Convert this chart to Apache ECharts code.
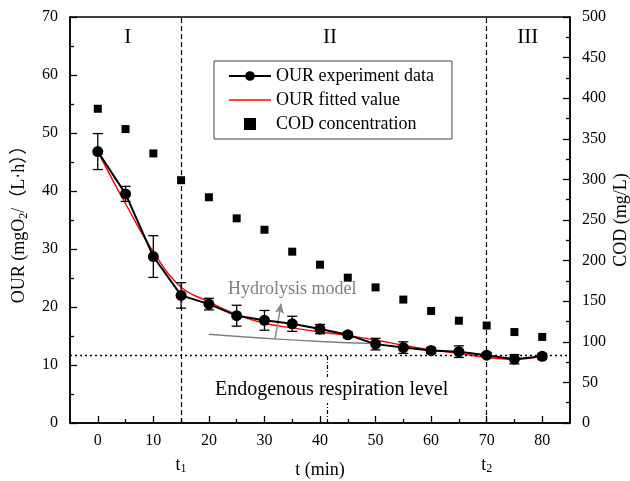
<!DOCTYPE html>
<html>
<head>
<meta charset="utf-8">
<script src="https://cdn.jsdelivr.net/npm/echarts@6/dist/echarts.min.js"></script>
<style>
  html, body { margin: 0; padding: 0; background: #fff; }
  #main { width: 630px; height: 481px; }
</style>
</head>
<body>
<div id="main"></div>
<script>
// data
var times = [0, 5, 10, 15, 20, 25, 30, 35, 40, 45, 50, 55, 60, 65, 70, 75, 80];
var ourMean = [46.8, 39.5, 28.7, 22.0, 20.5, 18.5, 17.7, 17.1, 16.2, 15.2, 13.6, 13.0, 12.5, 12.3, 11.7, 11.0, 11.5];
var ourErr = [3.1, 1.3, 3.6, 2.2, 1.0, 1.8, 1.7, 1.3, 0.8, 0.5, 1.0, 1.0, 0.5, 1.0, 0.4, 0.8, 0.5];
var ourFit = [46.8, 37.8, 29.5, 23.4, 20.9, 18.7, 17.2, 16.4, 15.7, 15.1, 14.3, 13.4, 12.6, 12.0, 11.3, 11.0, 11.5];
var codVals = [387, 362, 332, 299, 278, 252, 238, 211, 195, 179, 167, 152, 138, 126, 120, 112, 106];
var hydroT = [20, 30, 40, 50];
var hydroV = [15.3, 14.6, 14.05, 13.7];
var endoLevel = 11.7;
var phaseBounds = [15, 70];
var xMajor = [0, 10, 20, 30, 40, 50, 60, 70, 80];
var xMinor = [5, 15, 25, 35, 45, 55, 65, 75];

var FONT = 'Liberation Serif, Noto Sans CJK SC, serif';

function pairs(xs, ys) {
    return xs.map(function (x, i) { return [x, ys[i]]; });
}

var errData = times.map(function (t, i) {
    return [t, ourMean[i] - ourErr[i], ourMean[i] + ourErr[i]];
});

var chart = echarts.init(document.getElementById('main'), null, { renderer: 'canvas' });

var axisBase = {
    axisLine: { show: true, onZero: false, lineStyle: { color: '#000', width: 1.5 } },
    splitLine: { show: false },
    minorSplitLine: { show: false },
    nameMoveOverlap: false
};

var option = {
    animation: false,
    backgroundColor: '#fff',
    textStyle: { fontFamily: FONT },
    grid: {
        left: 70, right: 60, top: 17, bottom: 58,
        containLabel: false, outerBoundsMode: 'none',
        show: true, borderColor: '#000', borderWidth: 1.5, backgroundColor: 'transparent'
    },
    legend: {
        orient: 'vertical',
        left: 214, top: 61,
        backgroundColor: '#fff',
        borderColor: '#444', borderWidth: 1,
        padding: [6, 18, 6, 14],
        itemWidth: 42, itemHeight: 12, itemGap: 6,
        textStyle: { fontFamily: FONT, fontSize: 18, color: '#000' },
        data: [
            { name: 'OUR experiment data' },
            { name: 'OUR fitted value', icon: 'path://M0,0H42V1.4H0Z' },
            { name: 'COD concentration', icon: 'path://M0,0H10V10H0Z' }
        ]
    },
    xAxis: [
        Object.assign({}, axisBase, {
            type: 'value', min: -5, max: 85, position: 'bottom',
            axisTick: { show: true, inside: true, length: 7, customValues: xMajor, lineStyle: { color: '#000', width: 1.3 } },
            axisLabel: { customValues: xMajor, margin: 10, fontSize: 16, color: '#000', fontFamily: FONT },
            name: 't (min)', nameLocation: 'middle', nameGap: 38,
            nameTextStyle: { fontSize: 18, color: '#000', fontFamily: FONT }
        }),
        {
            type: 'value', min: -5, max: 85, position: 'bottom',
            axisLine: { show: false, onZero: false },
            splitLine: { show: false },
            axisTick: { show: true, inside: true, length: 4, customValues: xMinor, lineStyle: { color: '#000', width: 1.3 } },
            axisLabel: {
                customValues: phaseBounds, margin: 32, color: '#000',
                formatter: function (v) { return v === 15 ? '{t|t}{s|1}' : '{t|t}{s|2}'; },
                rich: {
                    t: { fontSize: 18, fontFamily: FONT, color: '#000', lineHeight: 20 },
                    s: { fontSize: 12, fontFamily: FONT, color: '#000', verticalAlign: 'bottom', lineHeight: 12 }
                }
            }
        }
    ],
    yAxis: [
        Object.assign({}, axisBase, {
            type: 'value', min: 0, max: 70, interval: 10, position: 'left',
            axisTick: { show: true, inside: true, length: 7, lineStyle: { color: '#000', width: 1.3 } },
            minorTick: { show: true, splitNumber: 2, length: 4, lineStyle: { color: '#000', width: 1.3 } },
            axisLabel: { margin: 12, fontSize: 16, color: '#000', fontFamily: FONT },
            name: '{a|OUR (mgO}{s|2}{a|/（L·h））}',
            nameLocation: 'middle', nameRotate: 90, nameGap: 40,
            nameTextStyle: {
                rich: {
                    a: { fontSize: 18, fontFamily: FONT, color: '#000', lineHeight: 22 },
                    s: { fontSize: 12, fontFamily: FONT, color: '#000', verticalAlign: 'bottom', lineHeight: 12 }
                }
            }
        }),
        Object.assign({}, axisBase, {
            type: 'value', min: 0, max: 500, interval: 50, position: 'right',
            axisTick: { show: true, inside: true, length: 7, lineStyle: { color: '#000', width: 1.3 } },
            minorTick: { show: true, splitNumber: 2, length: 4, lineStyle: { color: '#000', width: 1.3 } },
            axisLabel: { margin: 12, fontSize: 16, color: '#000', fontFamily: FONT },
            name: 'COD (mg/L)', nameLocation: 'middle', nameRotate: 90, nameGap: 42,
            nameTextStyle: { fontSize: 18, color: '#000', fontFamily: FONT }
        })
    ],
    series: [
        {
            name: 'Hydrolysis model',
            type: 'line',
            data: pairs(hydroT, hydroV),
            smooth: true,
            symbol: 'none',
            lineStyle: { color: '#7f7f7f', width: 1.4 },
            z: 2,
            markLine: {
                silent: true,
                symbol: ['none', 'arrow'],
                symbolSize: [7, 10],
                label: { show: false },
                lineStyle: { color: '#8a8a8a', width: 1.5, type: 'solid' },
                data: [[{ coord: [31.9, 14.4] }, { coord: [33.0, 20.6] }]]
            }
        },
        {
            name: 'OUR fitted value',
            type: 'line',
            data: pairs(times, ourFit),
            smooth: 0.4,
            symbol: 'none',
            lineStyle: { color: '#ff0000', width: 1.4 },
            itemStyle: { color: '#ff0000' },
            z: 3
        },
        {
            name: 'errbars',
            type: 'custom',
            data: errData,
            z: 4,
            renderItem: function (params, api) {
                var lo = api.coord([api.value(0), api.value(1)]);
                var hi = api.coord([api.value(0), api.value(2)]);
                var w = 5;
                var st = { stroke: '#000', lineWidth: 1.3 };
                return {
                    type: 'group',
                    children: [
                        { type: 'line', shape: { x1: lo[0], y1: lo[1], x2: hi[0], y2: hi[1] }, style: st },
                        { type: 'line', shape: { x1: lo[0] - w, y1: lo[1], x2: lo[0] + w, y2: lo[1] }, style: st },
                        { type: 'line', shape: { x1: hi[0] - w, y1: hi[1], x2: hi[0] + w, y2: hi[1] }, style: st }
                    ]
                };
            }
        },
        {
            name: 'OUR experiment data',
            type: 'line',
            data: pairs(times, ourMean),
            symbol: 'circle',
            symbolSize: 11,
            lineStyle: { color: '#000', width: 2 },
            itemStyle: { color: '#000' },
            z: 5,
            markLine: {
                silent: true,
                symbol: 'none',
                label: { show: false },
                data: [
                    { xAxis: phaseBounds[0], lineStyle: { color: '#000', width: 1.2, type: [5, 3] } },
                    { xAxis: phaseBounds[1], lineStyle: { color: '#000', width: 1.2, type: [5, 3] } },
                    { yAxis: endoLevel, lineStyle: { color: '#000', width: 1.3, type: [2, 3] } },
                    [
                        { coord: [41.3, 0], lineStyle: { color: '#000', width: 1.2, type: [4, 2, 1, 2] } },
                        { coord: [41.3, endoLevel] }
                    ]
                ]
            }
        },
        {
            name: 'COD concentration',
            type: 'scatter',
            yAxisIndex: 1,
            data: pairs(times, codVals),
            symbol: 'rect',
            symbolSize: 8,
            itemStyle: { color: '#000', opacity: 1 },
            z: 4
        }
    ]
};

chart.setOption(option);

// text annotations placed through the axes
function px(t, v) {
    return chart.convertToPixel({ xAxisIndex: 0, yAxisIndex: 0 }, [t, v]);
}
var notes = [
    { text: 'I', at: [5.4, 66.4], size: 21, color: '#000' },
    { text: 'II', at: [41.8, 66.4], size: 21, color: '#000' },
    { text: 'III', at: [77.4, 66.4], size: 21, color: '#000' },
    { text: 'Hydrolysis model', at: [35.0, 23.1], size: 18, color: '#808080' },
    { text: 'Endogenous respiration level', at: [42.1, 5.7], size: 20, color: '#000', bg: true }
];
chart.setOption({
    graphic: notes.map(function (n) {
        var p = px(n.at[0], n.at[1]);
        return {
            type: 'text', x: p[0], y: p[1], z: 100,
            style: {
                text: n.text, fill: n.color, font: n.size + 'px ' + FONT,
                align: 'center', verticalAlign: 'middle',
                backgroundColor: n.bg ? '#fff' : null,
                padding: n.bg ? [3, 0] : 0
            }
        };
    })
});
</script>
</body>
</html>
